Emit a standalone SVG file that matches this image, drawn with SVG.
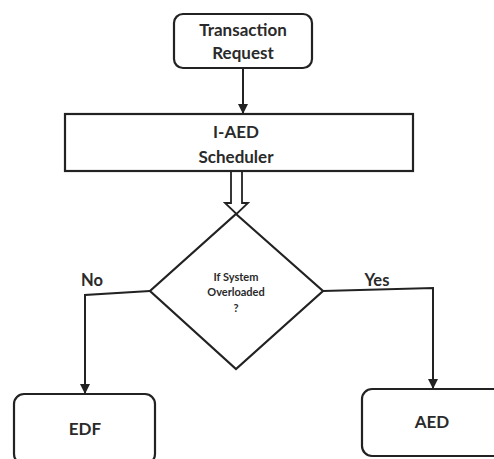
<svg xmlns="http://www.w3.org/2000/svg" width="494" height="459" viewBox="0 0 494 459">
<defs>
<style>
.box{fill:#fff;stroke:#222;stroke-width:2.2}
.t{font-family:Lato,"Liberation Sans",sans-serif;font-weight:bold;fill:#2a2a2a;text-anchor:middle}
.c{fill:none;stroke:#222;stroke-width:2}
</style>
<marker id="ah" viewBox="0 0 10 10" refX="9" refY="5" markerWidth="5" markerHeight="5" orient="auto" markerUnits="strokeWidth">
<path d="M0,0 L10,5 L0,10 z" fill="#222"/>
</marker>
</defs>
<rect width="494" height="459" fill="#fff"/>
<g id="connectors">
<path class="c" d="M243,68 V113" marker-end="url(#ah)"/>
<polygon points="231,171 242,171 242,203 248,203 236.5,214 225,203 231,203" fill="#fff" stroke="#222" stroke-width="1.8"/>
<path class="c" d="M150,291 L85,295 V393" marker-end="url(#ah)"/>
<path class="c" d="M323,291 L433,288 V388" marker-end="url(#ah)"/>
<text class="t" x="92" y="286" font-size="16.5">No</text>
<text class="t" x="377" y="286" font-size="16.5">Yes</text>
</g>
<g id="transaction-request">
<rect class="box" x="174" y="14" width="138" height="54" rx="9"/>
<text class="t" x="243" y="36" font-size="17">Transaction</text>
<text class="t" x="243" y="59" font-size="17">Request</text>
</g>
<g id="scheduler">
<rect class="box" x="65" y="114" width="348" height="57"/>
<text class="t" x="236" y="138" font-size="17">I-AED</text>
<text class="t" x="236" y="163" font-size="17">Scheduler</text>
</g>
<g id="decision">
<polygon class="box" points="236,214 323,291 236,369 150,291"/>
<text class="t" x="236" y="281" font-size="11">If System</text>
<text class="t" x="236" y="296" font-size="11">Overloaded</text>
<text class="t" x="236" y="312" font-size="11">?</text>
</g>
<g id="edf">
<rect class="box" x="14" y="394" width="141" height="70" rx="10"/>
<text class="t" x="85" y="435" font-size="17">EDF</text>
</g>
<g id="aed">
<rect class="box" x="362" y="389" width="150" height="67" rx="10"/>
<text class="t" x="432" y="428" font-size="17">AED</text>
</g>
</svg>
